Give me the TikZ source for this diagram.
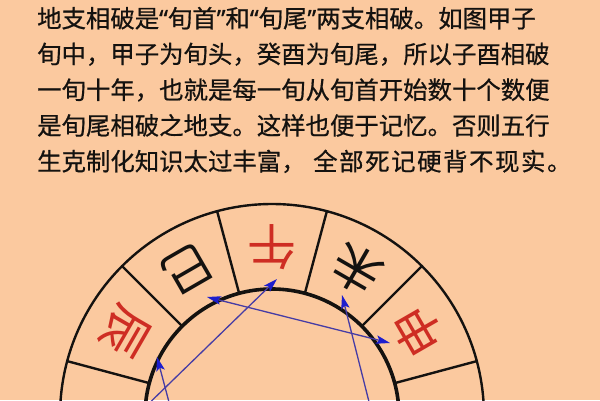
\documentclass[tikz,border=0pt]{standalone}
\usepackage{fontspec}
\setmainfont{Noto Sans CJK SC}
\newfontfamily\parafont[FakeBold=0.6]{Noto Sans CJK SC}
\newfontfamily\quotefont[FakeBold=0.6]{Noto Sans}
\usetikzlibrary{arrows.meta}
\definecolor{bgpeach}{RGB}{251,201,159}
\definecolor{zred}{RGB}{206,45,35}
\definecolor{zblack}{RGB}{20,18,16}
\definecolor{lineblue}{RGB}{70,60,165}
\definecolor{tipblue}{RGB}{30,30,205}
\newcommand{\zlq}{{\quotefont “}}
\newcommand{\zrq}{{\quotefont ”}}
\tikzset{
  para/.style={anchor=base west, inner sep=0pt, font=\parafont\fontsize{24.4}{30}\selectfont, text=zblack},
  branch/.style={inner sep=0pt, font=\fontsize{49}{52}\selectfont},
  divider/.style={line width=2.4pt, draw=zblack},
  ringline/.style={line width=2.4pt, draw=zblack},
  innerring/.style={line width=3.6pt, draw=zblack},
  breakline/.style={draw=lineblue, line width=1.3pt,
    {Stealth[length=14pt,width=8.5pt,inset=3pt,color=tipblue]}-{Stealth[length=14pt,width=8.5pt,inset=3pt,color=tipblue]}},
}
\begin{document}
\begin{tikzpicture}[x=1pt,y=1pt]
\useasboundingbox (0,0) rectangle (600,400);
\clip (0,0) rectangle (600,400);
\fill[bgpeach] (0,0) rectangle (600,400);

% paragraph
\node[para] (l1) at (37,372.5) {地支相破是\zlq 旬首\zrq 和\zlq 旬尾\zrq 两支相破。如图甲子};
\node[para] (l2) at (37,336.8) {旬中，甲子为旬头，癸酉为旬尾，所以子酉相破};
\node[para] (l3) at (37,301.0) {一旬十年，也就是每一旬从旬首开始数十个数便};
\node[para] (l4) at (37,265.3) {是旬尾相破之地支。这样也便于记忆。否则五行};
\node[para] (l5a) at (37,229.5) {生克制化知识太过丰富，};
\node[para, font=\parafont\fontsize{24.4}{30}\selectfont\addfontfeature{LetterSpace=6.5}] (l5b) at (313,229.5) {全部死记硬背不现实。};

% wheel
\coordinate (c) at (272,-16);
\draw[ringline] (c) circle[radius=212];
\foreach \a in {15,45,...,345}
  \draw[divider] ([shift={(\a:127)}]c) -- ([shift={(\a:212)}]c);
\draw[innerring] (c) circle[radius=127];

\node[branch, text=zred,   rotate=240] (chen) at ([shift={(150:169)}]c) {辰};
\node[branch, text=zblack, rotate=210] (si)   at ([shift={(120:169)}]c) {巳};
\node[branch, text=zred,   rotate=180] (wu)   at ([shift={(90:169)}]c)  {午};
\node[branch, text=zblack, rotate=150] (wei)  at ([shift={(60:169)}]c)  {未};
\node[branch, text=zred,   rotate=120] (shen) at ([shift={(30:169)}]c)  {申};

% break lines
\coordinate (pSi)   at (207,103);
\coordinate (pShen) at (390,57);
\coordinate (pWu)   at (277,121);
\coordinate (pMao)  at ([shift={(180:136)}]c);
\coordinate (pChen) at (157,43);
\coordinate (pChou) at ([shift={(240:136)}]c);
\coordinate (pWei)  at (342,105);
\coordinate (pXu)   at ([shift={(330:136)}]c);
\draw[breakline] (pSi) -- (pShen);
\draw[breakline] (pWu) -- (pMao);
\draw[breakline] (pChen) -- (pChou);
\draw[breakline] (pWei) -- (pXu);
\end{tikzpicture}
\end{document}
